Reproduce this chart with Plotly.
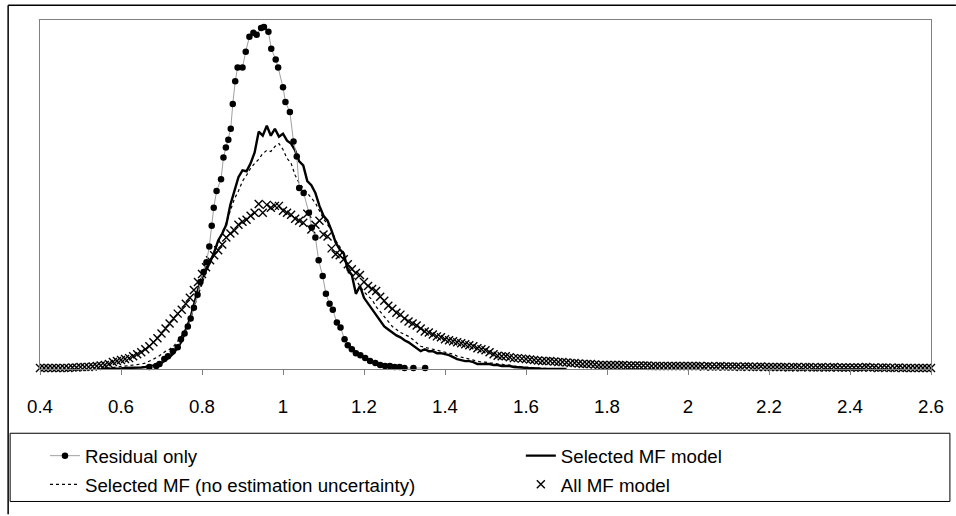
import plotly.graph_objects as go

# ---------------- data ----------------
tick_vals = [0.4, 0.6, 0.8, 1.0, 1.2, 1.4, 1.6, 1.8, 2.0, 2.2, 2.4, 2.6]
tick_text = ["0.4", "0.6", "0.8", "1", "1.2", "1.4", "1.6", "1.8", "2", "2.2", "2.4", "2.6"]

residual_x = [0.670, 0.687, 0.695, 0.707, 0.716, 0.728, 0.740, 0.748, 0.757, 0.765,
              0.772, 0.780, 0.789, 0.796, 0.804, 0.811, 0.818, 0.824, 0.829, 0.836,
              0.847, 0.853, 0.859, 0.865, 0.871, 0.876, 0.882, 0.888, 0.900, 0.908,
              0.917, 0.927, 0.935, 0.946, 0.953, 0.964, 0.971, 0.982, 0.988, 1.000,
              1.006, 1.017, 1.026, 1.034, 1.040, 1.051, 1.064, 1.071, 1.080, 1.088,
              1.098, 1.106, 1.115, 1.123, 1.133, 1.142, 1.152, 1.160, 1.170, 1.180,
              1.191, 1.203, 1.215, 1.228, 1.240, 1.252, 1.264, 1.276, 1.288, 1.300,
              1.322, 1.351]
residual_y = [2, 3, 5, 10, 13, 18, 22, 30, 36, 43,
              51, 62, 75, 88, 98, 108, 124, 145, 163, 180,
              192, 214, 224, 232, 243, 268, 291, 305, 305, 321,
              336, 340, 338, 345, 346, 341, 324, 313, 305, 285,
              270, 260, 230, 215, 183, 178, 158, 143, 133, 110,
              94, 76, 66, 60, 47, 42, 30, 24, 20, 16,
              14, 11, 8, 6, 4, 3, 3, 2, 2, 1,
              1, 1]

selected_x = [round(0.55 + 0.01 * i, 2) for i in range(116)]
selected_y = [0, 0, 0, 0.5, 0.5, 0.5, 1, 1, 1, 1.5,
              1.5, 2, 2.5, 3, 4, 6, 9, 12, 16, 22,
              28, 40, 50, 65, 80, 92, 100, 108, 118, 130,
              137, 146, 166, 180, 194, 201, 200, 208, 219, 240,
              236, 246, 236, 243, 235, 238, 231, 228, 221, 210,
              206, 190, 186, 178, 165, 155, 150, 140, 128, 121,
              117, 100, 95, 76, 84, 72, 66, 60, 54, 48,
              43, 40, 37, 34, 32, 29, 27, 24, 21, 18,
              20, 18, 18, 16, 16, 15, 14, 12, 10, 9,
              8, 8, 7, 5, 5, 5, 5, 4, 4, 3,
              3, 3, 2, 2, 1.5, 1, 1, 0.5, 0.5, 0,
              0, 0, 0, 0, 0, 0]

noest_x = [round(0.55 + 0.01 * i, 2) for i in range(116)]
noest_y = [0, 0.5, 1, 1, 1.5, 2, 2.5, 3, 3.5, 4,
           5, 6, 8, 10, 12, 15, 18, 20, 23, 28,
           34, 40, 50, 62, 75, 88, 98, 108, 118, 128,
           138, 148, 160, 172, 180, 190, 196, 203, 208, 212,
           218, 221, 220, 225, 228, 222, 213, 208, 196, 188,
           183, 178, 172, 168, 160, 152, 146, 140, 130, 124,
           112, 104, 96, 90, 84, 78, 74, 70, 63, 58,
           52, 48, 43, 40, 37, 35, 33, 30, 26, 23,
           22, 21, 20, 19, 18, 17, 16, 15, 13, 12,
           11, 10, 9, 8, 7, 7, 6, 6, 5, 5,
           4, 4, 3, 3, 2, 2, 2, 1, 1, 1,
           0.5, 0.5, 0, 0, 0, 0]

allmf_x = [round(0.40 + 0.01 * i, 2) for i in range(221)]
allmf_y = [1, 1, 1, 1, 1, 1, 1, 1, 1.5, 1.5,
           2, 2, 2, 2.5, 3, 3.5, 4, 5, 7, 8,
           9, 10, 11, 13, 15, 17, 20, 23, 27, 31,
           36, 41, 46, 51, 56, 60, 66, 72, 80, 88,
           96, 103, 110, 115, 120, 126, 133, 137, 140, 146,
           149, 151, 155, 158, 167, 158, 166, 163, 165, 165,
           160, 158, 156, 152, 150, 148, 157, 141, 146, 150,
           136, 134, 122, 116, 115, 111, 106, 101, 97, 95,
           88, 84, 81, 79, 73, 69, 64, 61, 57, 55,
           51, 48, 46, 44, 41, 38, 37, 35, 33, 32,
           30, 29, 28, 27, 26, 25, 24, 23, 21, 20,
           19, 17, 15, 13.5, 13, 13, 12, 11, 11, 10.5,
           10, 9.5, 9, 8.5, 8, 8, 8, 7.5, 7, 7,
           6.5, 6, 6, 5.5, 5, 5, 5, 4.5, 4, 4,
           4, 4, 4, 4, 4, 3.5, 3.5, 3.5, 3.5, 3.5,
           3.5, 3, 3, 3, 3, 3, 3, 3, 3, 3,
           3, 3, 3, 3, 2.5, 3, 2.5, 2.5, 3, 2.5,
           2.5, 2.5, 2.5, 2, 2.5, 2.5, 2, 2, 2.5, 2,
           2, 2, 2, 2, 2, 1.5, 2, 2, 1.5, 2,
           2, 1.5, 1.5, 2, 1.5, 1.5, 2, 1.5, 1.5, 1.5,
           1.5, 1.5, 1.5, 1.5, 2, 1.5, 1.5, 1, 1.5, 1.5,
           1, 1, 1.5, 1, 1, 1, 1, 1, 1, 1,
           1]

# ---------------- figure ----------------
W, H = 956, 516
L, R, T, B = 40, 21, 20, 143
PW, PH = W - L - R, H - T - B


def px(xp):
    return (xp - L) / PW


def py(yp):
    return (H - B - yp) / PH


FONT = "Liberation Sans, Arial, sans-serif"
FS = 18.7

fig = go.Figure()

fig.add_trace(go.Scatter(
    x=allmf_x, y=allmf_y, mode="markers", name="All MF model",
    marker=dict(symbol="x-thin", size=8, color="black",
                line=dict(color="black", width=1.4)),
    cliponaxis=False, legend="legend4"))

fig.add_trace(go.Scatter(
    x=noest_x, y=noest_y, mode="lines",
    name="Selected MF (no estimation uncertainty)",
    line=dict(color="black", width=1.2, dash="dot"),
    cliponaxis=False, legend="legend3"))

fig.add_trace(go.Scatter(
    x=selected_x, y=selected_y, mode="lines", name="Selected MF model",
    line=dict(color="black", width=2.4),
    cliponaxis=False, legend="legend2"))

fig.add_trace(go.Scatter(
    x=residual_x, y=residual_y, mode="lines+markers", name="Residual only",
    line=dict(color="#a0a0a0", width=1),
    marker=dict(symbol="circle", size=6.5, color="black"),
    cliponaxis=False, legend="legend"))

leg_common = dict(bgcolor="rgba(0,0,0,0)", borderwidth=0,
                  font=dict(family=FONT, size=FS, color="black"),
                  xanchor="left", yanchor="middle")

shapes = [
    # outer chart border
    dict(type="line", xref="paper", yref="paper", x0=px(8), x1=px(960),
         y0=py(5), y1=py(5), line=dict(color="black", width=1.5)),
    dict(type="line", xref="paper", yref="paper", x0=px(8), x1=px(8),
         y0=py(5), y1=py(520), line=dict(color="black", width=1.5)),
    # legend box
    dict(type="rect", xref="paper", yref="paper", x0=px(10), x1=px(954),
         y0=py(507), y1=py(438), line=dict(color="black", width=1),
         fillcolor="rgba(0,0,0,0)"),
]

fig.update_layout(
    width=W, height=H,
    margin=dict(l=L, r=R, t=T, b=B, pad=0),
    paper_bgcolor="white", plot_bgcolor="white",
    font=dict(family=FONT, size=FS, color="black"),
    showlegend=True,
    legend=dict(x=px(45), y=py(461), **leg_common),
    legend2=dict(x=px(523), y=py(461), **leg_common),
    legend3=dict(x=px(45), y=py(490), **leg_common),
    legend4=dict(x=px(523), y=py(490), **leg_common),
    shapes=shapes,
    xaxis=dict(range=[0.4, 2.6], tickvals=tick_vals, ticktext=tick_text,
               ticks="outside", ticklen=5, tickwidth=1, tickcolor="#808080",
               showline=True, linecolor="#808080", linewidth=1, mirror=True,
               showgrid=False, zeroline=False, ticklabelstandoff=16,
               tickfont=dict(family=FONT, size=FS, color="black")),
    yaxis=dict(range=[0, 353], showticklabels=False, ticks="",
               showline=True, linecolor="#808080", linewidth=1, mirror=True,
               showgrid=False, zeroline=False),
)

fig.write_html("out.html",
               config={"displayModeBar": False},
               post_script="document.body.style.margin='0';"
                           "document.body.style.overflow='hidden';")
